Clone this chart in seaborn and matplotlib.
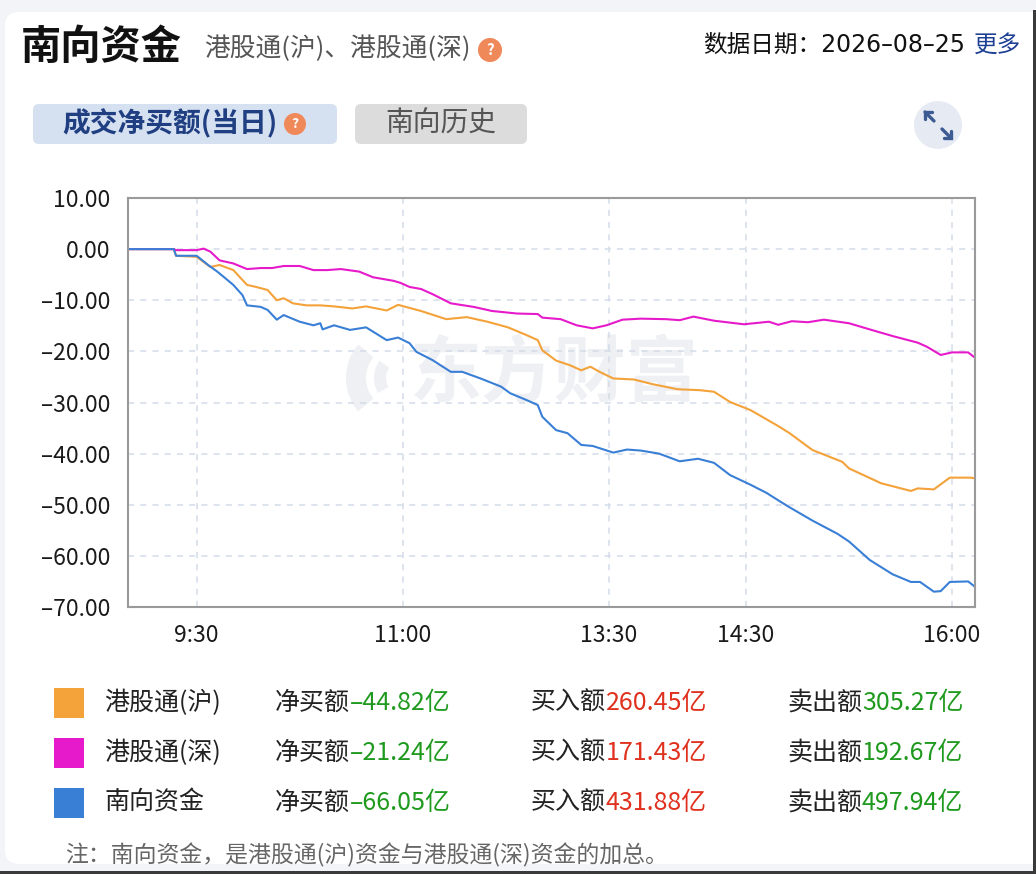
import matplotlib
matplotlib.use("Agg")
import matplotlib.pyplot as plt
import matplotlib.patches as mpatches
from matplotlib.ticker import FuncFormatter
import seaborn as sns
import pandas as pd

# ---------------- data ----------------
series_names = ["港股通(沪)", "港股通(深)", "南向资金"]
series_colors = ["#F4A23A", "#E61ACB", "#3A7FD6"]

sh_times = ["09:00", "09:20", "09:21", "09:30", "09:36", "09:40", "09:46", "09:52", "09:56", "10:01",
            "10:05", "10:08", "10:12", "10:18", "10:24", "10:30", "10:38", "10:44", "10:53", "10:58",
            "11:08", "11:19", "11:28", "11:37", "11:46", "11:54", "11:59", "13:01", "13:07", "13:13",
            "13:18", "13:22", "13:26", "13:32", "13:41", "13:49", "14:00", "14:10", "14:16", "14:23",
            "14:32", "14:44", "14:49", "14:59", "15:12", "15:15", "15:29", "15:42", "15:45", "15:52",
            "15:59", "16:08", "16:10"]
sh_values = [0, 0, -1.3, -1.5, -3.5, -3.1, -4.1, -7.0, -7.4, -8.0,
             -10.0, -9.6, -10.6, -11.0, -11.0, -11.2, -11.6, -11.2, -12.0, -10.9,
             -12.1, -13.7, -13.3, -14.2, -15.3, -16.8, -17.8, -19.8, -21.8, -22.7,
             -23.7, -23.0, -24.0, -25.3, -25.5, -26.4, -27.4, -27.6, -27.9, -29.9,
             -31.5, -34.6, -36.0, -39.3, -41.6, -42.9, -45.8, -47.3, -46.8, -47.0,
             -44.7, -44.7, -44.82]

sz_times = ["09:00", "09:20", "09:21", "09:30", "09:33", "09:36", "09:40", "09:46", "09:52", "09:58",
            "10:03", "10:08", "10:15", "10:21", "10:27", "10:33", "10:41", "10:47", "10:56", "10:59",
            "11:03", "11:08", "11:13", "11:21", "11:31", "11:39", "11:50", "11:59", "13:01", "13:09",
            "13:16", "13:23", "13:29", "13:36", "13:44", "13:55", "14:01", "14:07", "14:16", "14:29",
            "14:40", "14:44", "14:50", "14:57", "15:04", "15:15", "15:24", "15:34", "15:45", "15:49",
            "15:55", "16:00", "16:07", "16:10"]
sz_values = [0, 0, -0.2, -0.2, 0.1, -0.5, -2.2, -2.8, -3.9, -3.7,
             -3.7, -3.3, -3.3, -4.1, -4.1, -3.9, -4.4, -5.5, -6.2, -6.6,
             -7.4, -7.8, -8.8, -10.6, -11.3, -12.1, -12.6, -12.7, -13.4, -13.7,
             -14.9, -15.5, -14.9, -13.8, -13.6, -13.7, -13.9, -13.2, -14.0, -14.7,
             -14.2, -14.8, -14.1, -14.3, -13.8, -14.5, -15.7, -17.0, -18.3, -19.1,
             -20.7, -20.2, -20.2, -21.24]

total_times = ["09:00", "09:20", "09:21", "09:30", "09:35", "09:39", "09:42", "09:46", "09:50", "09:52",
               "09:58", "10:01", "10:05", "10:08", "10:15", "10:21", "10:24", "10:25", "10:30", "10:37",
               "10:44", "10:53", "10:58", "11:03", "11:06", "11:13", "11:21", "11:26", "11:34", "11:43",
               "11:47", "11:54", "11:59", "13:01", "13:07", "13:12", "13:18", "13:23", "13:32", "13:38",
               "13:44", "13:52", "14:01", "14:09", "14:16", "14:23", "14:32", "14:39", "14:45", "14:49",
               "14:59", "15:10", "15:15", "15:24", "15:34", "15:42", "15:46", "15:52", "15:55", "15:59",
               "16:07", "16:10"]
total_values = [0, 0, -1.3, -1.3, -3.1, -4.4, -5.5, -7.0, -9.0, -11.0,
                -11.3, -11.9, -13.8, -12.9, -14.2, -14.9, -14.5, -15.7, -14.9, -15.8,
                -15.3, -17.8, -17.3, -18.4, -20.1, -21.7, -24.0, -24.0, -25.3, -26.9,
                -28.2, -29.5, -30.5, -32.8, -35.4, -36.0, -38.3, -38.5, -39.8, -39.2,
                -39.4, -40.0, -41.5, -41.0, -41.8, -44.2, -46.1, -47.7, -49.4, -50.5,
                -53.1, -55.7, -57.2, -60.8, -63.6, -65.1, -65.1, -67.0, -66.9, -65.1,
                -65.0, -66.05]

x_tick_times = ["09:30", "11:00", "13:30", "14:30", "16:00"]
x_tick_labels = ["9:30", "11:00", "13:30", "14:30", "16:00"]
y_ticks = [10, 0, -10, -20, -30, -40, -50, -60, -70]

net_buy = [-44.82, -21.24, -66.05]
buy_amt = [260.45, 171.43, 431.88]
sell_amt = [305.27, 192.67, 497.94]

# ---------------- helpers ----------------
def trade_pos(t):
    h, m = map(int, t.split(":"))
    mins = h * 60 + m
    if mins <= 12 * 60:
        return mins - 9 * 60
    return mins - 13 * 60 + 180

def fmt_num(v):
    return f"{v:.2f}".replace("-", "\u2013")

frames = []
for name, ts, vs in [(series_names[0], sh_times, sh_values),
                     (series_names[1], sz_times, sz_values),
                     (series_names[2], total_times, total_values)]:
    frames.append(pd.DataFrame({"series": name, "pos": [trade_pos(t) for t in ts], "value": vs}))
df = pd.concat(frames, ignore_index=True)

# ---------------- style ----------------
sns.set_theme(style="white")
plt.rcParams["font.family"] = ["Noto Sans CJK SC", "DejaVu Sans"]
plt.rcParams["axes.unicode_minus"] = False

W, H = 1036, 874
fig = plt.figure(figsize=(W / 100, H / 100), dpi=100)
fig.patch.set_facecolor("#f2f4f7")

bg = fig.add_axes([0, 0, 1, 1])
bg.set_xlim(0, W)
bg.set_ylim(H, 0)
bg.axis("off")

# card
bg.add_patch(mpatches.FancyBboxPatch((5, 12), 1050, 852, boxstyle="round,pad=0,rounding_size=14",
                                     fc="white", ec="none"))
bg.add_patch(mpatches.Rectangle((1033, 10), 3, 864, fc="#3a3a3a", ec="none"))
bg.add_patch(mpatches.Rectangle((0, 871), W, 3, fc="#3a3a3a", ec="none"))

# header
bg.text(21, 47, "南向资金", fontsize=29, fontweight="heavy", color="#111111", va="center", ha="left")
bg.text(204, 49, "港股通(沪)、港股通(深)", fontsize=18.5, color="#555555", va="center", ha="left")
bg.add_patch(mpatches.Circle((490, 50), 12, fc="#F0895A", ec="none"))
bg.text(490, 50, "?", fontsize=11, color="white", fontweight="bold", ha="center", va="center")
bg.text(703, 45, "数据日期：2026\u201308\u201325", fontsize=17, color="#111111", va="center", ha="left",
        family=["DejaVu Sans", "Noto Sans CJK SC"])
bg.text(1021, 45, "更多", fontsize=17, color="#1d3f94", va="center", ha="right")

# tabs
bg.add_patch(mpatches.FancyBboxPatch((33, 104), 304, 40, boxstyle="round,pad=0,rounding_size=6",
                                     fc="#d5e1f0", ec="none"))
bg.text(62, 124, "成交净买额(当日)", fontsize=20, fontweight="bold", color="#203f82", va="center", ha="left")
bg.add_patch(mpatches.Circle((295, 124), 11, fc="#F0895A", ec="none"))
bg.text(295, 124, "?", fontsize=10, color="white", fontweight="bold", ha="center", va="center")
bg.add_patch(mpatches.FancyBboxPatch((355, 104), 172, 40, boxstyle="round,pad=0,rounding_size=6",
                                     fc="#dcdcdc", ec="none"))
bg.text(441, 124, "南向历史", fontsize=20, color="#555555", va="center", ha="center")

# expand icon
bg.add_patch(mpatches.Circle((938, 125), 24, fc="#e6ebf3", ec="none"))
icon_kw = dict(color="#3b5b92", lw=2.4, solid_capstyle="round", solid_joinstyle="miter")
bg.plot([934, 925], [121, 112], **icon_kw)
bg.plot([925, 925, 932], [119, 112, 112], **icon_kw)
bg.plot([942, 951], [129, 138], **icon_kw)
bg.plot([944, 951, 951], [138, 138, 131], **icon_kw)

# watermark
bg.add_patch(mpatches.Wedge((398, 378), 52, 140, 220, width=20, fc="#eef0f4", ec="none"))
bg.add_patch(mpatches.Wedge((404, 378), 30, 150, 215, width=12, fc="#eef0f4", ec="none"))
bg.text(410, 375, "东方财富", fontsize=52, fontweight="bold", color="#eef0f4", va="center", ha="left")

# ---------------- chart ----------------
ax = fig.add_axes([128 / W, 1 - 607 / H, 847 / W, 409 / H])
ax.set_facecolor("none")
sns.lineplot(data=df, x="pos", y="value", hue="series", hue_order=series_names,
             palette=series_colors, estimator=None, sort=False, legend=False,
             linewidth=1.5, ax=ax)
ax.set_xlim(0, 370)
ax.set_ylim(-70, 10)
ax.set_xticks([trade_pos(t) for t in x_tick_times])
ax.set_xticklabels(x_tick_labels)
ax.set_yticks(y_ticks)
ax.yaxis.set_major_formatter(FuncFormatter(lambda v, p: fmt_num(v)))
ax.set_xlabel("")
ax.set_ylabel("")
ax.grid(True, color="#d3dce8", linestyle=(0, (4, 4)), linewidth=1.1)
ax.set_axisbelow(True)
for s in ax.spines.values():
    s.set_visible(True)
    s.set_color("#9a9a9a")
    s.set_linewidth(1.5)
ax.tick_params(axis="both", length=0, labelsize=16.5, labelcolor="#1a1a1a")
ax.tick_params(axis="y", pad=13)
ax.tick_params(axis="x", pad=12)

# ---------------- legend table ----------------
bg.add_patch(mpatches.Rectangle((33, 678), 1010, 150, fc="#f5f6f8", ec="none", zorder=0))
rows_y = [703, 753, 803]
green = "#1f9a1f"
red = "#e0301e"
for i, yc in enumerate(rows_y):
    bg.add_patch(mpatches.Rectangle((54, yc - 15), 30, 30, fc=series_colors[i], ec="none"))
    bg.text(104, yc, series_names[i], fontsize=18, color="#222222", va="center", ha="left")
    bg.text(275, yc, "净买额", fontsize=18, color="#222222", va="center", ha="left")
    bg.text(350, yc, fmt_num(net_buy[i]) + "亿", fontsize=18, color=green if net_buy[i] < 0 else red,
            va="center", ha="left")
    bg.text(531, yc, "买入额", fontsize=18, color="#222222", va="center", ha="left")
    bg.text(606, yc, fmt_num(buy_amt[i]) + "亿", fontsize=18, color=red, va="center", ha="left")
    bg.text(787, yc, "卖出额", fontsize=18, color="#222222", va="center", ha="left")
    bg.text(862, yc, fmt_num(sell_amt[i]) + "亿", fontsize=18, color=green, va="center", ha="left")

bg.text(65, 855, "注：南向资金，是港股通(沪)资金与港股通(深)资金的加总。", fontsize=16.5, color="#666666",
        va="center", ha="left")

fig.savefig("out.png", dpi=100, facecolor=fig.get_facecolor())
